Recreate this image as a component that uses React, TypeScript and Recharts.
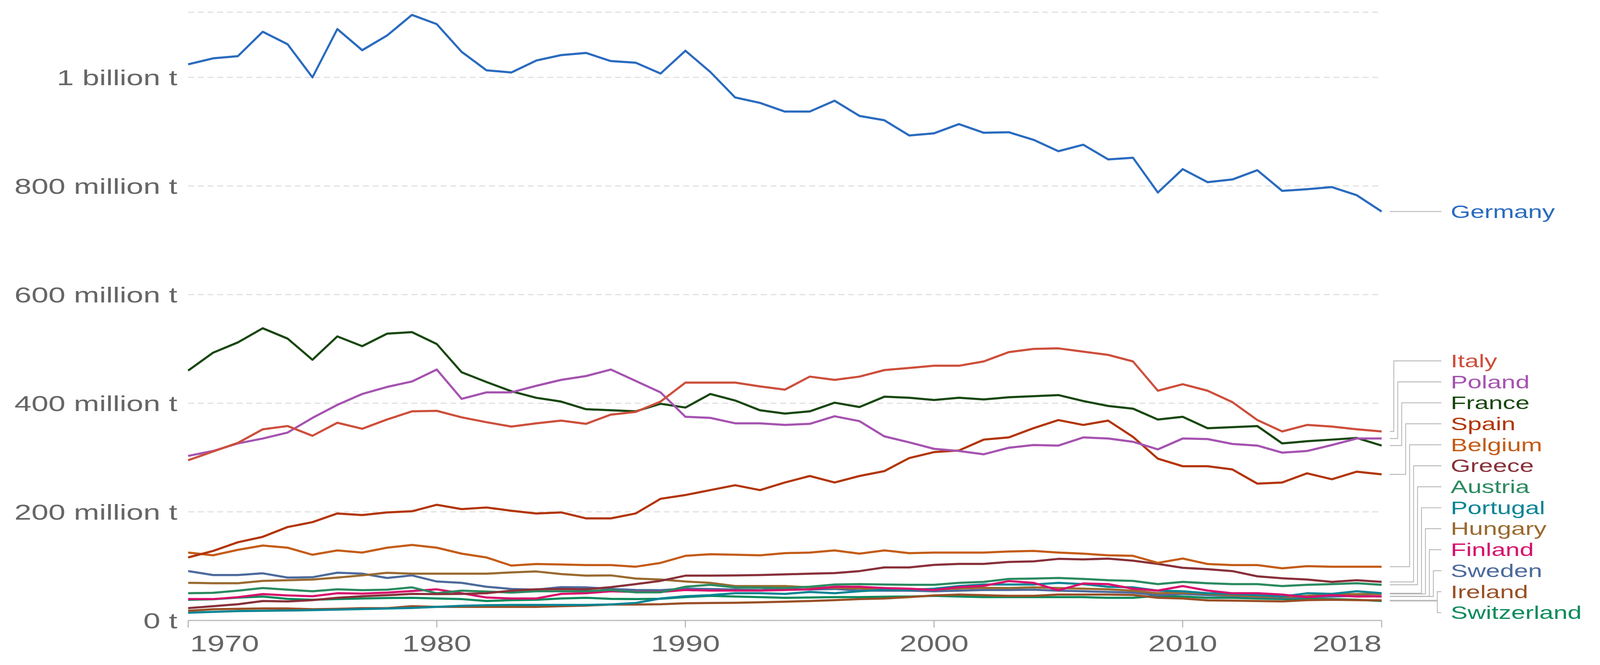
import React from 'react';
import { LineChart, Line, XAxis, YAxis, CartesianGrid } from 'recharts';

// material footprint by country, million tonnes, 1970-2018
const YEARS = [
  1970, 1971, 1972, 1973, 1974, 1975, 1976, 1977, 1978, 1979,
  1980, 1981, 1982, 1983, 1984, 1985, 1986, 1987, 1988, 1989,
  1990, 1991, 1992, 1993, 1994, 1995, 1996, 1997, 1998, 1999,
  2000, 2001, 2002, 2003, 2004, 2005, 2006, 2007, 2008, 2009,
  2010, 2011, 2012, 2013, 2014, 2015, 2016, 2017, 2018,
];

const GERMANY = [
  1024, 1035, 1039, 1084, 1061, 1000, 1089, 1050, 1077, 1115,
  1098, 1047, 1013, 1009, 1031, 1041, 1045, 1030, 1027, 1007,
  1049, 1010, 963, 953, 937, 937, 957, 929, 921, 893,
  897, 914, 898, 899, 885, 864, 876, 849, 852, 788,
  831, 807, 812, 829, 791, 794, 798, 783, 753,
];
const ITALY = [
  295, 311, 327, 352, 358, 340, 364, 353, 370, 385,
  386, 374, 365, 357, 363, 368, 362, 379, 384, 403,
  438, 438, 438, 431, 425, 449, 443, 449, 461, 465,
  469, 469, 477, 494, 500, 501, 495, 489, 477, 423,
  435, 423, 402, 369, 348, 360, 357, 352, 348,
];
const POLAND = [
  303, 312, 326, 335, 346, 373, 397, 417, 430, 440,
  462, 408, 420, 420, 432, 443, 450, 462, 441, 420,
  375, 373, 363, 363, 360, 362, 376, 367, 339, 328,
  316, 312, 306, 318, 323, 322, 337, 335, 329, 315,
  335, 334, 325, 322, 309, 312, 323, 335, 335,
];
const FRANCE = [
  460, 493, 512, 538, 519, 480, 523, 505, 528, 531,
  509, 457, 439, 422, 410, 403, 389, 387, 385, 399,
  392, 417, 405, 387, 381, 385, 401, 393, 412, 410,
  406, 410, 407, 411, 413, 415, 404, 395, 390, 370,
  375, 354, 356, 358, 326, 330, 333, 336, 322,
];
const SPAIN = [
  116, 128, 144, 154, 172, 181, 197, 194, 199, 201,
  213, 205, 208, 202, 197, 199, 188, 188, 197, 224,
  231, 240, 249, 240, 254, 266, 254, 266, 275, 299,
  310, 313, 333, 337, 354, 369, 360, 368, 338, 298,
  284, 284, 278, 252, 254, 271, 260, 274, 269,
];
const BELGIUM = [
  125, 120, 130, 138, 134, 121, 129, 125, 134, 139,
  134, 123, 116, 101, 104, 103, 102, 102, 99, 106,
  119, 122, 121, 120, 124, 125, 129, 123, 129, 124,
  125, 125, 125, 127, 128, 125, 123, 120, 119, 106,
  114, 104, 102, 102, 96, 100, 99, 99, 99,
];
const GREECE = [
  22.6, 26.2, 29.8, 35.8, 35, 37.4, 41.7, 44.6, 46.5, 48.9,
  48.5, 48.9, 50.1, 54.9, 57.3, 58, 57.3, 61.4, 66.9, 72.9,
  82.5, 82.5, 83, 83.7, 84.9, 86.1, 87.3, 90.9, 97.7, 97.7,
  102.3, 104.2, 104.2, 107.8, 108.8, 113.4, 112.4, 113.8, 110.1, 104.2,
  96.9, 94.5, 90.9, 81.3, 77.7, 75.3, 71, 74.1, 71,
];
const AUSTRIA = [
  50.1, 50.9, 54.9, 59.7, 56.6, 53.7, 57.3, 55.7, 56.6, 60.9,
  50.1, 54.9, 53.3, 51.3, 53.7, 53.7, 53.7, 56.1, 51.8, 51.8,
  62.1, 65.7, 60.9, 60.5, 59.7, 62.1, 66.2, 66.9, 66.2, 65.7,
  65.7, 69.3, 71, 76.5, 77.2, 78.2, 76.5, 74.1, 72.9, 66.9,
  71, 68.6, 66.9, 66.9, 63.3, 65.7, 66.9, 68.6, 65.7,
];
const PORTUGAL = [
  14.2, 15.9, 17.3, 17.8, 18.3, 19, 20, 21, 22, 23,
  25, 27, 28, 28.6, 28.6, 28.6, 28.6, 29.5, 32.2, 40.5,
  44.6, 46.5, 50.1, 50.1, 48.9, 52.5, 50.1, 53.7, 56.6, 56.1,
  58.5, 63.3, 66.2, 66.2, 66.2, 69.3, 66.9, 62.1, 60.9, 54.9,
  53.7, 50.1, 48.9, 46.5, 44, 50.1, 48.9, 53.7, 50.1,
];
const HUNGARY = [
  69.3, 68.6, 68.6, 72.9, 74.1, 75.3, 78.9, 83, 87.8, 86.1,
  86.1, 86.1, 86.1, 88.5, 90.2, 85.4, 82.5, 83, 77.2, 75.3,
  71.7, 69.3, 63.3, 63.3, 63.3, 61, 60, 59, 58, 58,
  57, 59, 60, 59.7, 60.9, 59.7, 58.5, 57.3, 54.9, 50.1,
  51.3, 48.9, 46.5, 44.1, 42.9, 45.3, 47.7, 48.5, 48.9,
];
const FINLAND = [
  39.3, 39.3, 42.9, 48.5, 46.1, 44.6, 50.1, 49.4, 51.3, 54.2,
  57.3, 50.1, 42.2, 40.5, 40.5, 48.9, 50.1, 53.7, 52.5, 52.5,
  56.1, 55, 55, 55, 56.1, 57.3, 62.1, 62.1, 59.7, 58.5,
  56.1, 61.4, 63.8, 72.4, 69.3, 55.7, 68.1, 66.9, 58.5, 55,
  63.3, 55, 50.1, 50.1, 47.7, 42.9, 46.5, 44.1, 44.6,
];
const SWEDEN = [
  90.9, 83.7, 83.7, 86.8, 78.9, 79.6, 88, 86.1, 78.2, 83,
  71.7, 69.3, 62.1, 58, 56.6, 61.4, 60.9, 58, 56.1, 55.7,
  58.5, 58, 57, 56, 58, 57, 58, 55, 54.9, 54.9,
  53.7, 54.9, 56.1, 56.1, 56.6, 54.9, 53.7, 52.5, 51.3, 46.5,
  48.9, 46.5, 45.3, 42.9, 41.7, 42.9, 44.1, 45.3, 44.1,
];
const IRELAND = [
  17.8, 20.6, 21.4, 22.1, 22.1, 20.6, 21.4, 22.6, 22.6, 26.2,
  25, 25, 25, 25, 25, 26.2, 27.4, 29.3, 29.3, 29.8,
  31.7, 32.2, 32.6, 33.4, 34.6, 35.8, 37.4, 39.3, 40.5, 42.9,
  46.1, 47.7, 46.5, 45.3, 45.3, 47.7, 47.7, 47.7, 47, 41.7,
  40.5, 37, 36.5, 35.8, 35, 37.4, 38.1, 37.4, 37,
];
const SWITZERLAND = [
  38, 39, 42, 44.1, 39.8, 38.1, 39.3, 40.5, 41.3, 41.7,
  40.5, 39.3, 35.8, 37.4, 38.1, 40.5, 41.7, 39.8, 39.3, 40,
  43, 45.3, 44, 43, 41.7, 42.2, 42.9, 42.9, 43.7, 44.1,
  45.3, 44, 42.9, 42.9, 42.9, 42.9, 42.9, 41.7, 41.7, 45.3,
  44.1, 41.7, 41.7, 40.5, 39.3, 39.8, 39.3, 38.1, 35.8,
];

const Y_TICKS = [0, 200, 400, 600, 800, 1000];
const X_TICKS = [1970, 1980, 1990, 2000, 2010, 2018];

const SERIES = [
  { name: 'Switzerland', color: '#0b8a5c', values: SWITZERLAND },
  { name: 'Ireland', color: '#9a4f26', values: IRELAND },
  { name: 'Sweden', color: '#4c6a9c', values: SWEDEN },
  { name: 'Hungary', color: '#9a6a30', values: HUNGARY },
  { name: 'Portugal', color: '#0a8494', values: PORTUGAL },
  { name: 'Finland', color: '#d70f6c', values: FINLAND },
  { name: 'Austria', color: '#2b8a60', values: AUSTRIA },
  { name: 'Greece', color: '#883039', values: GREECE },
  { name: 'Belgium', color: '#c45c17', values: BELGIUM },
  { name: 'Spain', color: '#b23506', values: SPAIN },
  { name: 'France', color: '#18470f', values: FRANCE },
  { name: 'Poland', color: '#a553b0', values: POLAND },
  { name: 'Italy', color: '#cd4f3c', values: ITALY },
  { name: 'Germany', color: '#2a6bbf', values: GERMANY },
];

const data = YEARS.map((year, i) => {
  const row: Record<string, number> = { year };
  SERIES.forEach((s) => { row[s.name] = s.values[i]; });
  return row;
});

// layout
const W = 4286;
const H = 1702;
const Y_MAX = 1120;
const PLOT_LEFT = 504;
const PLOT_RIGHT = 3701;
const PLOT_BOTTOM = 1588;
const PLOT_H = (Y_MAX / 200) * 278;
const PLOT_TOP = PLOT_BOTTOM - PLOT_H;
const X_AXIS_H = 80;

const FONT = '"Liberation Sans", Arial, Helvetica, sans-serif';
const STRETCH = 1.46; // picture is stretched sideways
const GREY = '#666';

// end label placement: keep labels apart, push the stack up from the bottom
const LABEL_GAP = 53.7;
const LABEL_MAX_Y = 1568;
const last = YEARS.length - 1;
const toPix = (v: number) => PLOT_BOTTOM - (v / Y_MAX) * PLOT_H;

const labelLayout: Record<string, { y: number; bend: number; moved: boolean }> = {};
{
  const sorted = [...SERIES].sort((a, b) => b.values[last] - a.values[last]);
  const natural = sorted.map((s) => toPix(s.values[last]));
  const pos = natural.slice();
  for (let i = 1; i < pos.length; i++) pos[i] = Math.max(pos[i], pos[i - 1] + LABEL_GAP);
  pos[pos.length - 1] = Math.min(pos[pos.length - 1], LABEL_MAX_Y);
  for (let i = pos.length - 2; i >= 0; i--) pos[i] = Math.min(pos[i], pos[i + 1] - LABEL_GAP);
  let k = 0;
  sorted.forEach((s, i) => {
    const moved = Math.abs(pos[i] - natural[i]) > 0.5;
    labelLayout[s.name] = { y: pos[i], bend: 3733.6 + 10.6 * Math.min(k, 11), moved };
    if (moved) k++;
  });
}

const yLabel = (v: number) => {
  if (v === 0) return '0 t';
  if (v === 1000) return '1 billion t';
  return `${v} million t`;
};

const YTick = (props: any) => {
  const { y, payload } = props;
  return (
    <text
      transform={`translate(475, ${y}) scale(${STRETCH}, 1)`}
      textAnchor="end"
      dy="0.35em"
      fontSize={56}
      fontFamily={FONT}
      fill={GREY}
    >
      {yLabel(payload.value)}
    </text>
  );
};

const XTick = (props: any) => {
  const { x, payload } = props;
  const v = payload.value;
  const anchor = v === X_TICKS[0] ? 'start' : v === X_TICKS[X_TICKS.length - 1] ? 'end' : 'middle';
  const tx = anchor === 'start' ? x + 5 : x;
  return (
    <g>
      <line x1={x} y1={PLOT_BOTTOM} x2={x} y2={PLOT_BOTTOM + 18} stroke="#aaa" strokeWidth={2.5} />
      <text
        transform={`translate(${tx}, 1667) scale(${STRETCH}, 1)`}
        textAnchor={anchor}
        fontSize={57}
        fontFamily={FONT}
        fill={GREY}
      >
        {v}
      </text>
    </g>
  );
};

const endLabel = (name: string, color: string) => (props: any) => {
  const { x, y, index } = props;
  if (index !== last) return <g />;
  const lay = labelLayout[name];
  const sx = x + 22;
  const d = lay.moved
    ? `M${sx},${y} H${lay.bend} V${lay.y} H3861`
    : `M${sx},${y} H3861`;
  const ty = lay.moved ? lay.y : y;
  return (
    <g>
      <path d={d} fill="none" stroke="#b5b5b5" strokeWidth={2.2} />
      <text
        transform={`translate(3886, ${ty}) scale(${STRETCH}, 1)`}
        dy="0.35em"
        fontSize={46.5}
        fontFamily={FONT}
        fill={color}
      >
        {name}
      </text>
    </g>
  );
};

export default function App() {
  // fit the fixed-size drawing into whatever the viewport really is
  const vw = typeof window !== 'undefined' ? window.innerWidth : W;
  const vh = typeof window !== 'undefined' ? window.innerHeight : H;
  const sx = vw / W;
  const sy = vh / H;
  return (
    <div style={{ position: 'fixed', left: 0, top: 0, width: vw, height: vh, overflow: 'hidden', background: '#fff' }}>
      <div style={{ width: W, height: H, transform: `scale(${sx}, ${sy})`, transformOrigin: '0 0' }}>
        <LineChart
          width={W}
          height={H}
          data={data}
          margin={{ top: PLOT_TOP, right: W - PLOT_RIGHT, left: 0, bottom: H - PLOT_BOTTOM - X_AXIS_H }}
        >
          <CartesianGrid vertical={false} stroke="#dcdcdc" strokeWidth={2.5} strokeDasharray="16 10" />
          <XAxis
            dataKey="year"
            type="number"
            domain={[1970, 2018]}
            ticks={X_TICKS}
            interval={0}
            height={X_AXIS_H}
            tick={<XTick />}
            tickLine={false}
            axisLine={{ stroke: '#bbb', strokeWidth: 3 }}
          />
          <YAxis
            type="number"
            domain={[0, Y_MAX]}
            ticks={Y_TICKS}
            interval={0}
            width={PLOT_LEFT}
            tick={<YTick />}
            tickLine={false}
            axisLine={false}
          />
          {SERIES.map((s) => (
            <Line
              key={s.name}
              dataKey={s.name}
              type="linear"
              stroke={s.color}
              strokeWidth={5.5}
              strokeLinejoin="round"
              dot={false}
              activeDot={false}
              isAnimationActive={false}
              label={endLabel(s.name, s.color)}
            />
          ))}
        </LineChart>
      </div>
    </div>
  );
}
